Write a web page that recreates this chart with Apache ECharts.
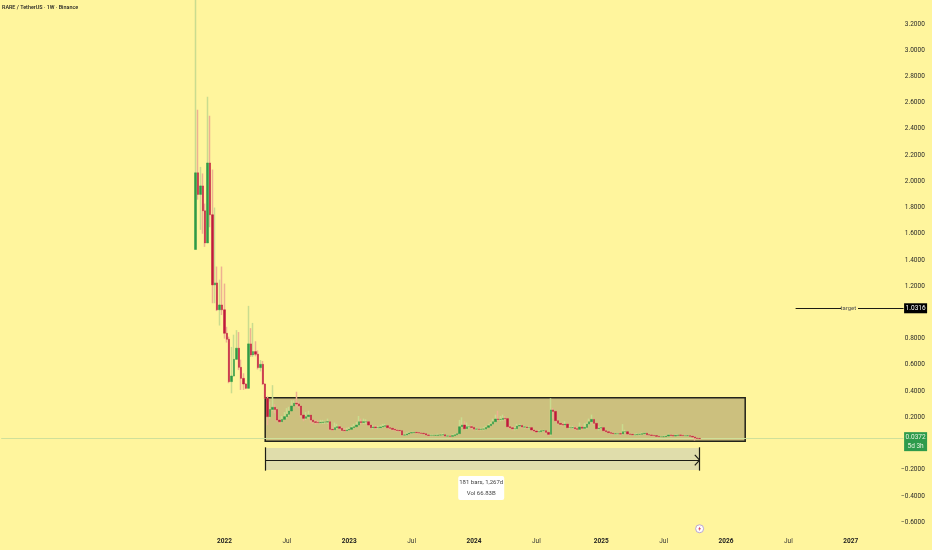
<!DOCTYPE html>
<html><head><meta charset="utf-8">
<style>html,body{margin:0;padding:0;background:#FFF59D}#c{width:932px;height:550px}</style>
<script src="https://cdn.jsdelivr.net/npm/echarts@6/dist/echarts.min.js"></script>
</head><body><div id="c"></div>
<script>
const titleText = 'RARE / TetherUS · 1W · Binance';
const firstOpen = 1.48;
const closes = [2.065,1.90,1.965,1.775,1.53,2.14,1.745,1.21,1.225,1.02,
1.057,1.02,.841,.795,.472,.515,.642,.727,.581,.497,
.454,.421,.760,.676,.701,.681,.579,.604,.454,.344,
.205,.260,.276,.260,.179,.166,.184,.205,.223,.248,
.286,.307,.302,.286,.217,.192,.205,.217,.179,.166,
.161,.159,.161,.164,.164,.166,.108,.105,.121,.128,
.116,.100,.098,.103,.108,.121,.128,.141,.166,.161,
.166,.166,.141,.121,.126,.121,.121,.126,.131,.136,
.121,.116,.108,.103,.100,.098,.065,.065,.073,.080,
.083,.085,.083,.080,.078,.075,.065,.062,.062,.062,
.062,.065,.065,.067,.057,.057,.055,.060,.067,.075,
.128,.141,.113,.128,.128,.123,.110,.110,.108,.110,
.110,.123,.136,.148,.166,.187,.184,.184,.192,.190,
.128,.120,.113,.113,.133,.138,.126,.126,.121,.121,
.103,.095,.088,.090,.098,.098,.085,.070,.256,.245,
.174,.154,.146,.141,.148,.121,.121,.121,.113,.108,
.126,.116,.123,.148,.166,.184,.154,.113,.118,.121,
.098,.090,.083,.078,.075,.075,.075,.073,.090,.090,
.073,.070,.067,.067,.070,.070,.075,.078,.067,.065,
.062,.060,.055,.052,.052,.052,.057,.065,.062,.057,
.062,.065,.062,.060,.060,.060,.055,.050,.042,.039,.0372];
const highs = [3.6,2.546,2.11,2.06,1.83,2.645,2.5,2.09,1.80,1.35,
1.25,1.35,1.22,.89,.815,.737,.83,.865,.85,.64,
.536,.46,1.05,.88,.92,.78,.71,.637,.63,.46,
.36,.32,.445,.30,.27,.19,.21,.24,.27,.28,
.33,.33,.395,.32,.29,.22,.24,.25,.22,.185,
.18,.175,.18,.18,.175,.19,.17,.13,.16,.15,
.14,.125,.12,.12,.125,.135,.15,.165,.21,.19,
.19,.185,.17,.145,.14,.14,.135,.14,.15,.15,
.14,.13,.12,.115,.11,.105,.1,.075,.085,.09,
.09,.09,.09,.085,.085,.08,.08,.07,.07,.07,
.07,.075,.075,.08,.07,.065,.06,.07,.075,.08,
.18,.2,.17,.16,.14,.14,.125,.12,.115,.12,
.125,.135,.15,.165,.19,.22,.25,.21,.22,.21,
.195,.14,.13,.125,.15,.15,.145,.135,.13,.13,
.125,.11,.10,.10,.105,.105,.10,.09,.345,.27,
.25,.18,.16,.155,.17,.155,.14,.135,.13,.125,
.16,.135,.155,.16,.19,.22,.19,.16,.135,.13,
.125,.10,.095,.09,.08,.08,.08,.08,.148,.105,
.09,.08,.075,.075,.08,.08,.085,.085,.08,.07,
.07,.065,.06,.058,.058,.06,.065,.075,.07,.068,
.07,.072,.07,.068,.066,.065,.065,.06,.055,.045,.042];
const lows = [1.48,1.86,1.63,1.60,1.50,1.53,1.65,1.07,1.07,1.01,
.90,.98,.80,.77,.46,.383,.51,.64,.56,.409,
.409,.415,.42,.66,.66,.665,.565,.55,.446,.34,
.14,.19,.25,.23,.17,.15,.16,.18,.19,.21,
.25,.29,.28,.27,.20,.17,.18,.19,.16,.15,
.145,.15,.15,.15,.15,.15,.10,.095,.10,.11,
.11,.09,.09,.095,.10,.105,.115,.125,.14,.145,
.15,.15,.135,.115,.11,.11,.11,.115,.12,.125,
.115,.105,.10,.095,.09,.09,.06,.06,.06,.07,
.075,.08,.075,.075,.07,.07,.06,.055,.055,.055,
.055,.058,.06,.06,.052,.05,.05,.052,.058,.065,
.07,.12,.105,.105,.115,.11,.10,.10,.10,.10,
.10,.105,.12,.135,.145,.16,.17,.17,.175,.175,
.12,.11,.10,.10,.105,.125,.115,.115,.11,.11,
.095,.088,.08,.08,.085,.09,.075,.06,.06,.19,
.165,.145,.135,.13,.135,.115,.11,.11,.105,.10,
.10,.105,.11,.115,.14,.155,.14,.105,.10,.11,
.09,.085,.078,.072,.068,.068,.068,.06,.068,.08,
.068,.065,.06,.06,.062,.062,.068,.07,.062,.06,
.056,.055,.05,.047,.047,.048,.05,.055,.055,.052,
.055,.058,.056,.056,.055,.055,.05,.045,.023,.032,.03];
const yHiddenTicks = [1, 0, -0.8];
const xTickLabels = {'2022-01-03':'2022','2022-07-04':'Jul','2023-01-02':'2023','2023-07-03':'Jul','2024-01-01':'2024','2024-07-01':'Jul','2025-01-06':'2025','2025-07-07':'Jul','2026-01-05':'2026','2026-07-06':'Jul','2027-01-04':'2027'};
const lastPrice = 0.0372, targetPrice = 1.0316;
const boxRange = [0.35, 0.017];
const measureRange = [-0.034, -0.202];
const measureMid = -0.126;

const FONT = 'Roboto, "Liberation Sans", sans-serif';
const CANDLE_OFFSET = 81, CAT_COUNT = 377;
const weeks = [];
const startMs = Date.UTC(2021,9,11) - CANDLE_OFFSET*7*864e5;
for (let i=0;i<CAT_COUNT;i++) weeks.push(new Date(startMs + i*7*864e5).toISOString().slice(0,10));
const opens = [firstOpen, ...closes.slice(0,-1)];
const blank = ['-','-','-','-'];
const pad = Array.from({length:CANDLE_OFFSET},()=>blank);
const wickData = pad.concat(closes.map((c,i)=>[opens[i], c, lows[i], highs[i]]));
const bodyData = pad.concat(closes.map((c,i)=>[opens[i], c, Math.min(opens[i],c), Math.max(opens[i],c)]));
const idxBoxL = 110, idxBoxR = 310, idxMeasL = 110, idxMeasR = 291, idxTargetL = 331, idxGapL = 350, idxGapR = 357, idxEnd = CAT_COUNT-1;
const dark = {lineStyle:{color:'#1c1c14',width:1.2,type:'solid'}};

const chart = echarts.init(document.getElementById('c'),null,{renderer:'canvas'});
chart.setOption({
  animation:false,
  backgroundColor:'#FFF59D',
  textStyle:{fontFamily:FONT},
  title:{text:titleText,left:2,top:5,padding:0,textStyle:{fontSize:5.4,fontWeight:500,color:'#222',fontFamily:FONT}},
  grid:{left:0,top:0,width:904.8,height:548.4,containLabel:false},
  xAxis:{type:'category',data:weeks,boundaryGap:true,
    axisLine:{show:false},axisTick:{show:false},splitLine:{show:false},
    axisLabel:{inside:true,margin:4,hideOverlap:false,
      interval:(i,v)=>v in xTickLabels,
      formatter:v=>{const t=xTickLabels[v]||'';return t==='Jul'?'{m|Jul}':'{y|'+t+'}';},
      rich:{y:{fontSize:6.5,fontWeight:'bold',color:'#222',fontFamily:FONT},m:{fontSize:6.5,color:'#333',fontFamily:FONT}}}},
  yAxis:{type:'value',position:'right',min:-0.8,max:3.383,interval:0.2,scale:false,
    axisLine:{show:false},axisTick:{show:false},splitLine:{show:false},
    axisLabel:{align:'right',margin:20,color:'#2a2a2a',fontSize:6.5,fontFamily:FONT,showMinLabel:false,showMaxLabel:false,
      formatter:v=>{
        if (yHiddenTicks.some(t=>Math.abs(t-v)<1e-6)) return '';
        return (v<0?'−':'')+Math.abs(v).toFixed(4);
      }}},
  series:[
    {name:'wicks',type:'candlestick',data:wickData,barWidth:1,z:3,silent:true,clip:true,
     itemStyle:{color:'#c9dc8f',color0:'#eeb091',borderColor:'#c9dc8f',borderColor0:'#eeb091',borderWidth:1.5},
     markArea:{silent:true,z:1,data:[
       [{coord:[weeks[idxBoxL],boxRange[0]],itemStyle:{color:'#CCC07E',borderColor:'#23231a',borderWidth:1.5}},{coord:[weeks[idxBoxR],boxRange[1]]}],
       [{coord:[weeks[idxMeasL],measureRange[0]],itemStyle:{color:'#E0DDAB',borderWidth:0}},{coord:[weeks[idxMeasR],measureRange[1]]}]
     ]},
     markLine:{silent:true,symbol:'none',z:2,label:{show:false},animation:false,data:[
       [{coord:[weeks[0],lastPrice],lineStyle:{color:'#cfe09a',width:1,type:'solid'}},{coord:[weeks[idxEnd],lastPrice]}],
       [{coord:[weeks[idxMeasL],measureRange[0]+0.005],...dark},{coord:[weeks[idxMeasL],measureRange[1]-0.005]}],
       [{coord:[weeks[idxMeasR],measureRange[0]+0.005],...dark},{coord:[weeks[idxMeasR],measureRange[1]-0.005]}],
       [{coord:[weeks[idxMeasL],measureMid],...dark},{coord:[weeks[idxMeasR],measureMid]}],
       [{coord:[weeks[idxMeasR-2],measureMid+0.04],...dark},{coord:[weeks[idxMeasR],measureMid]}],
       [{coord:[weeks[idxMeasR-2],measureMid-0.04],...dark},{coord:[weeks[idxMeasR],measureMid]}],
       [{coord:[weeks[idxTargetL],targetPrice],...dark},{coord:[weeks[idxGapL],targetPrice]}],
       [{coord:[weeks[idxGapR],targetPrice],...dark},{coord:[weeks[idxEnd],targetPrice]}]
     ]},
     markPoint:{silent:true,z:6,animation:false,data:[
       {coord:[weeks[353],targetPrice],symbol:'rect',symbolSize:1,itemStyle:{color:'rgba(0,0,0,0)'},
        label:{show:true,position:'inside',formatter:'target',color:'#555',fontSize:6,fontFamily:FONT}},
       {coord:[weeks[idxEnd],targetPrice],symbol:'rect',symbolSize:[23,10],symbolOffset:[12,0],itemStyle:{color:'#000'},
        label:{show:true,position:'inside',formatter:'1.0316',color:'#fff',fontSize:6.5,fontFamily:FONT}},
       {coord:[weeks[idxEnd],lastPrice],symbol:'rect',symbolSize:[23,19],symbolOffset:[12,3],itemStyle:{color:'#2e9b4c'},
        label:{show:true,position:'inside',formatter:'0.0372\n5d 3h',color:'#e8f4e0',fontSize:6.5,lineHeight:9,fontFamily:FONT}},
       {coord:[weeks[200],-0.34],symbol:'path://M2 0 H44 Q46 0 46 2 V22 Q46 24 44 24 H2 Q0 24 0 22 V2 Q0 0 2 0 Z',symbolSize:[46,24],itemStyle:{color:'#fff'},
        label:{show:true,position:'inside',formatter:'181 bars, 1,267d\nVol 66.83B',color:'#444',fontSize:6,lineHeight:11,fontFamily:FONT}},
       {coord:[weeks[idxMeasR],-0.65],symbol:'circle',symbolSize:8,itemStyle:{color:'#fff',borderColor:'#b9a6d2',borderWidth:1}},
       {coord:[weeks[idxMeasR],-0.65],symbol:'path://M6 0 L1 6 L4 6 L3 10 L8 4 L5 4 Z',symbolSize:[3,5],itemStyle:{color:'#d8455a'}}
     ]}
    },
    {name:'bodies',type:'candlestick',data:bodyData,barWidth:2,z:4,silent:true,clip:true,
     itemStyle:{color:'#2f9a46',color0:'#c01a3c',borderColor:'#2f9a46',borderColor0:'#c01a3c',borderWidth:0.5}}
  ]
});
</script></body></html>
